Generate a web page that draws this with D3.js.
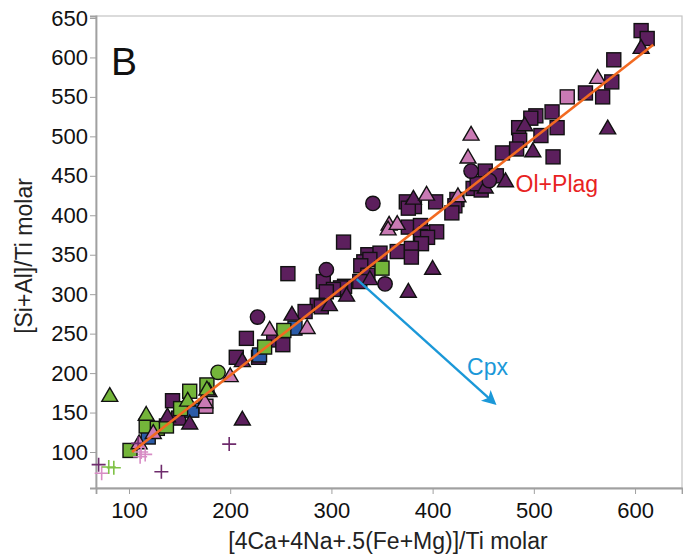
<!DOCTYPE html>
<html>
<head>
<meta charset="utf-8">
<script src="https://cdn.jsdelivr.net/npm/d3@7"></script>
<style>
  body { margin: 0; background: #fff; }
  svg text { font-family: "Liberation Sans", Arial, sans-serif; }
</style>
</head>
<body>
<div id="vizcontainer"></div>
<script>
// values, in [x, y] pairs
const purpleSquares = [
  [606,634],[612,624],[579,597],[577,569],[551,555],[568,550],[518,531],[523,511],
  [502,526],[497,523],[485,511],[507,501],[486,495],[483,484],[519,474],[469,479],
  [452,456],[463,450],[440,434],[448,432],[444,440],
  [424,420],[422,412],[419,403],[403,417],[374,417],[382,411],[376,409],
  [376,385],[388,387],[394,378],[404,379],[388,373],[395,372],[389,364],[379,358],[379,347],[365,354],
  [312,366],[336,350],[348,352],[332,341],[338,344],[329,336],[336,324],[328,316],
  [292,316],[257,326],[313,310],[309,308],[302,306],[295,303],[286,286],[290,284],[274,278],
  [216,244],[243,242],[252,236],[228,220],[206,220],
  [143,165],[149,143]
];
const purpleTriangles = [
  [606,611],[573,509],[491,513],[499,480],[472,442],[452,434],
  [400,331],[376,302],[338,318],[381,420],
  [315,297],[298,285],[261,273],[212,214],[212,140],
  [138,144],[160,135]
];
const purpleCircles = [[438,456],[456,444],[341,415],[295,331],[353,313],[227,271]];
const pinkSquares = [[533,550],[176,158]];
const pinkTriangles = [
  [563,573],[438,501],[435,472],[394,425],[425,423],[357,387],[356,381],[365,388],
  [276,256],[239,254],[200,195],[175,162],[179,176],[110,110],[124,123]
];
const greenSquares = [[350,333],[253,254],[234,233],[177,185],[160,177],[151,155],[117,133],[128,130],[137,133],[101,102]];
const greenTriangles = [[81,170],[117,146],[158,164],[177,178]];
const greenCircles = [[188,201]];
const blueSquares = [[264,257],[229,223],[162,153],[119,119]];
const purpleCrosses = [[109,111],[199,110],[132,75],[70,84]];
const pinkCrosses = [[112,100],[111,94],[73,73],[116,97]];
const greenCrosses = [[80,81],[85,80]];

const olPlagLine = [[103,100],[618,616]];
const cpxVector = [[325,319],[461,162]];

const xTicks = [100,200,300,400,500,600];
const yTicks = [100,150,200,250,300,350,400,450,500,550,600,650];

const purple = '#5c1f5d', pink = '#c97ab4', green = '#74b53a', blue = '#2b5ba8';

const width = 683,
  height = 555;

let viz = d3.select('#vizcontainer')
  .append('svg')
  .attr('width', width)
  .attr('height', height);

const x = d3.scaleLinear().domain([67.4, 646.4]).range([96, 682]);
const y = d3.scaleLinear().domain([54.4, 652.5]).range([488, 16]);

// frame
viz.append('rect')
  .attr('x', 96).attr('y', 16)
  .attr('width', 586).attr('height', 472)
  .attr('fill', 'none')
  .attr('stroke', '#c4c4c4')
  .attr('stroke-width', 1.2);

viz.append('g')
  .attr('transform', 'translate(0,488)')
  .call(d3.axisBottom(x).tickValues(xTicks).tickSize(6).tickPadding(8).tickFormat(d3.format('d')))
  .call(g => g.select('.domain').attr('stroke', '#a0a0a0').attr('stroke-width', 1.8))
  .call(g => g.selectAll('.tick line').attr('stroke', '#a0a0a0'))
  .selectAll('text')
  .style('font-size', '22px')
  .attr('fill', '#111');

viz.append('g')
  .attr('transform', 'translate(96,0)')
  .call(d3.axisLeft(y).tickValues(yTicks).tickSize(6).tickPadding(2).tickFormat(d3.format('d')))
  .call(g => g.select('.domain').attr('stroke', '#a0a0a0').attr('stroke-width', 1.8))
  .call(g => g.selectAll('.tick line').attr('stroke', '#a0a0a0'))
  .selectAll('text')
  .style('font-size', '22px')
  .attr('fill', '#111');

viz.append('text')
  .attr('x', 388).attr('y', 549)
  .attr('text-anchor', 'middle')
  .style('font-size', '23px')
  .attr('fill', '#222')
  .text('[4Ca+4Na+.5(Fe+Mg)]/Ti molar');

viz.append('text')
  .attr('transform', 'translate(32,256) rotate(-90)')
  .attr('text-anchor', 'middle')
  .style('font-size', '23px')
  .attr('fill', '#222')
  .text('[Si+Al]/Ti molar');

viz.append('text')
  .attr('x', 111).attr('y', 75)
  .style('font-size', '39px')
  .attr('fill', '#111')
  .text('B');

const plot = viz.append('g');

function squares(data, fill) {
  plot.selectAll(null)
    .data(data)
    .join('rect')
    .attr('x', d => x(d[0]) - 7)
    .attr('y', d => y(d[1]) - 7)
    .attr('width', 14).attr('height', 14)
    .attr('fill', fill)
    .attr('stroke', '#111')
    .attr('stroke-width', 1.4);
}
function triangles(data, fill) {
  plot.selectAll(null)
    .data(data)
    .join('path')
    .attr('d', d3.symbol(d3.symbolTriangle, 110))
    .attr('transform', d => `translate(${x(d[0])},${y(d[1])})`)
    .attr('fill', fill)
    .attr('stroke', '#111')
    .attr('stroke-width', 1.4);
}
function circles(data, fill) {
  plot.selectAll(null)
    .data(data)
    .join('circle')
    .attr('cx', d => x(d[0]))
    .attr('cy', d => y(d[1]))
    .attr('r', 7.2)
    .attr('fill', fill)
    .attr('stroke', '#111')
    .attr('stroke-width', 1.4);
}
function crosses(data, color) {
  plot.selectAll(null)
    .data(data)
    .join('path')
    .attr('d', 'M-7,0H7M0,-7V7')
    .attr('transform', d => `translate(${x(d[0])},${y(d[1])})`)
    .attr('stroke', color)
    .attr('stroke-width', 1.6);
}

squares(purpleSquares, purple);
squares(pinkSquares, pink);
squares(blueSquares, blue);
squares(greenSquares, green);
triangles(purpleTriangles, purple);
triangles(pinkTriangles, pink);
triangles(greenTriangles, green);
circles(purpleCircles, purple);
circles(greenCircles, green);
crosses(purpleCrosses, '#6e2b6c');
crosses(pinkCrosses, '#d88cc5');
crosses(greenCrosses, '#7fc246');

// Ol+Plag trend
viz.append('line')
  .attr('x1', x(olPlagLine[0][0])).attr('y1', y(olPlagLine[0][1]))
  .attr('x2', x(olPlagLine[1][0])).attr('y2', y(olPlagLine[1][1]))
  .attr('stroke', '#f26a21')
  .attr('stroke-width', 2.6);

viz.append('defs').append('marker')
  .attr('id', 'head')
  .attr('viewBox', '0 0 10 10')
  .attr('refX', 8).attr('refY', 5)
  .attr('markerWidth', 7).attr('markerHeight', 6)
  .attr('markerUnits', 'strokeWidth')
  .attr('orient', 'auto')
  .append('path')
  .attr('d', 'M0,0L10,5L0,10L2.5,5Z')
  .attr('fill', '#1b98d8');

viz.append('line')
  .attr('x1', x(cpxVector[0][0])).attr('y1', y(cpxVector[0][1]))
  .attr('x2', x(cpxVector[1][0])).attr('y2', y(cpxVector[1][1]))
  .attr('stroke', '#1b98d8')
  .attr('stroke-width', 2.4)
  .attr('marker-end', 'url(#head)');

viz.append('text')
  .attr('x', x(482)).attr('y', y(430))
  .style('font-size', '23px')
  .attr('fill', '#e8231f')
  .text('Ol+Plag');

viz.append('text')
  .attr('x', x(434)).attr('y', y(198))
  .style('font-size', '23px')
  .attr('fill', '#1b98d8')
  .text('Cpx');
</script>
</body>
</html>
